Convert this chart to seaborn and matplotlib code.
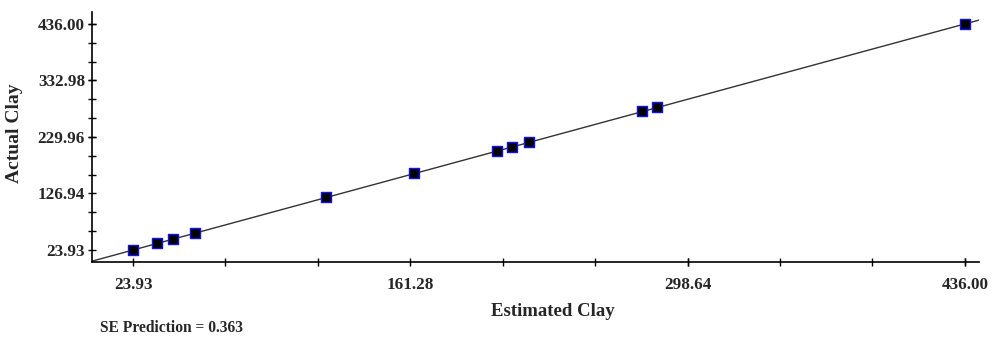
import matplotlib
matplotlib.use("Agg")
import matplotlib.pyplot as plt
import seaborn as sns
import numpy as np
import pandas as pd
from matplotlib.ticker import FixedLocator

# ---- data ----
estimated_clay = [23.9, 36.0, 43.9, 54.6, 119.5, 163.1, 204.1, 211.5, 219.9, 275.9, 283.5, 436.0]
actual_clay = [23.9, 36.5, 44.3, 55.3, 119.9, 163.5, 204.3, 212.1, 220.6, 276.9, 284.8, 436.5]
x_ticks = [23.93, 161.28, 298.64, 436.00]
y_ticks = [23.93, 126.94, 229.96, 332.98, 436.00]
se_prediction = 0.363

sns.set_style("ticks")
plt.rcParams['font.family'] = ['Liberation Serif', 'DejaVu Serif']
plt.rcParams['font.weight'] = 'bold'

df = pd.DataFrame({"Estimated Clay": estimated_clay, "Actual Clay": actual_clay})

fig = plt.figure(figsize=(10, 3.39), dpi=100)
ax = fig.add_axes([0.092, 0.227, 0.887, 0.738])

ax.axline((0, 0), slope=1, color="#333333", lw=1.0, zorder=1)
sns.scatterplot(data=df, x="Estimated Clay", y="Actual Clay", ax=ax, marker="s",
                s=55, color="black", edgecolor="#1010ff", linewidth=1.0, zorder=3)

ax.set_xlim(3.6, 443.0)
ax.set_ylim(2.0, 458.0)

ax.xaxis.set_major_locator(FixedLocator(x_ticks))
ax.yaxis.set_major_locator(FixedLocator(y_ticks))
xstep = (x_ticks[1] - x_ticks[0]) / 3
ystep = (y_ticks[1] - y_ticks[0]) / 3
ax.xaxis.set_minor_locator(FixedLocator([x_ticks[0] + i * xstep for i in range(10)]))
ax.yaxis.set_minor_locator(FixedLocator([y_ticks[0] + i * ystep for i in range(13)]))
ax.set_xticklabels([f"{v:.2f}" for v in x_ticks])
ax.set_yticklabels([f"{v:.2f}" for v in y_ticks])

ax.tick_params(which="both", direction="inout", length=6, width=1, color="black")
ax.tick_params(axis="x", which="major", labelsize=12.3, pad=8)
ax.tick_params(axis="y", which="major", labelsize=12.3, pad=2)

for s in ["top", "right"]:
    ax.spines[s].set_visible(False)
for s in ["left", "bottom"]:
    ax.spines[s].set_color("black")
    ax.spines[s].set_linewidth(1.2)

ax.set_xlabel("Estimated Clay", fontsize=13.5, fontweight="bold")
ax.set_ylabel("Actual Clay", fontsize=14, fontweight="bold")
ax.xaxis.set_label_coords(0.52, -0.164)
ax.yaxis.set_label_coords(-0.078, 0.516)

fig.text(0.100, 1 - 328 / 339, f"SE Prediction = {se_prediction:.3f}", fontsize=11.2,
         fontweight="bold", ha="left", va="center")

fig.savefig("out.png", dpi=100)
